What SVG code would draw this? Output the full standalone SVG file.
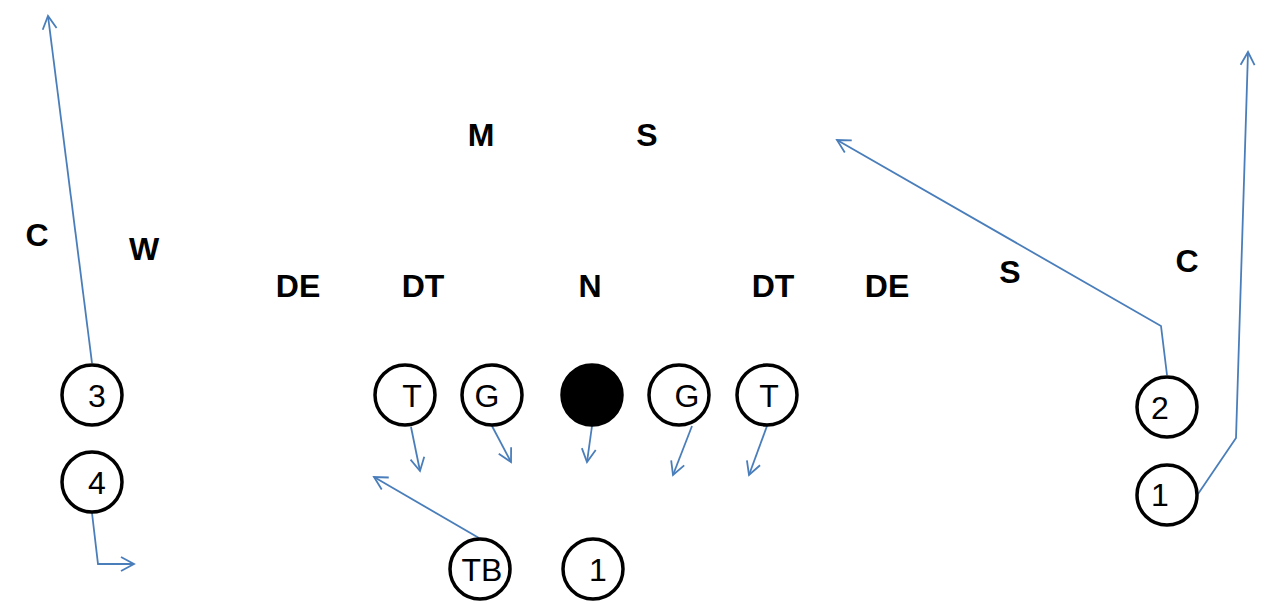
<svg xmlns="http://www.w3.org/2000/svg" width="1274" height="604" viewBox="0 0 1274 604">
<style>
.p circle{fill:#fff;stroke:#000;stroke-width:3.5}
.p text{font-family:"Liberation Sans",Arial,sans-serif;font-size:32px;fill:#000;text-anchor:middle}
.lbl text{font-family:"Liberation Sans",Arial,sans-serif;font-size:32px;font-weight:bold;fill:#000;text-anchor:middle}
.c path{fill:none;stroke:#4A7EBB;stroke-width:1.8;stroke-linejoin:miter;marker-end:url(#ah)}
</style>
<defs>
<marker id="ah" viewBox="0 0 16 16" refX="14" refY="8" markerWidth="16" markerHeight="16" markerUnits="userSpaceOnUse" orient="auto">
<path d="M1,1 L14,8 L1,15" fill="none" stroke="#4A7EBB" stroke-width="1.8"/>
</marker>
</defs>
<rect width="1274" height="604" fill="#fff"/>
<g id="defense" class="lbl">
<g id="d-M"><text x="481" y="146">M</text></g>
<g id="d-S1"><text x="647" y="146">S</text></g>
<g id="d-C1"><text x="37" y="246">C</text></g>
<g id="d-W"><text x="144" y="260">W</text></g>
<g id="d-DE1"><text x="298" y="297">DE</text></g>
<g id="d-DT1"><text x="423" y="297">DT</text></g>
<g id="d-N"><text x="590" y="297">N</text></g>
<g id="d-DT2"><text x="773" y="297">DT</text></g>
<g id="d-DE2"><text x="887" y="297">DE</text></g>
<g id="d-S2"><text x="1010" y="283">S</text></g>
<g id="d-C2"><text x="1187" y="272">C</text></g>
</g>
<g id="connectors" class="c">
<path d="M92,363 L48,16"/>
<path d="M92,513 L98,564 L134,564"/>
<path d="M411,427 L420,471"/>
<path d="M492,426 L511,462"/>
<path d="M592,426 L587,462"/>
<path d="M692,426 L673,475"/>
<path d="M767,426 L749,475"/>
<path d="M479,538 L374,477"/>
<path d="M1167,375 L1161,326 L837,140"/>
<path d="M1198,494 L1236,438 L1248,52"/>
</g>
<g id="p3" class="p"><circle cx="92" cy="395" r="30"/><text x="97" y="407">3</text></g>
<g id="p4" class="p"><circle cx="92" cy="482" r="30"/><text x="97" y="494">4</text></g>
<g id="pTL" class="p"><circle cx="405" cy="395" r="30"/><text x="412" y="407">T</text></g>
<g id="pGL" class="p"><circle cx="492" cy="395" r="30"/><text x="487" y="407">G</text></g>
<g id="pC" class="p"><circle cx="592" cy="395" r="30" style="fill:#000"/></g>
<g id="pGR" class="p"><circle cx="679" cy="395" r="30"/><text x="687" y="407">G</text></g>
<g id="pTR" class="p"><circle cx="767" cy="395" r="30"/><text x="769" y="407">T</text></g>
<g id="pTB" class="p"><circle cx="480" cy="569" r="30"/><text x="482" y="581">TB</text></g>
<g id="p1" class="p"><circle cx="593" cy="569" r="30"/><text x="598" y="581">1</text></g>
<g id="p2" class="p"><circle cx="1167" cy="407" r="30"/><text x="1160" y="419">2</text></g>
<g id="p1r" class="p"><circle cx="1167" cy="495" r="30"/><text x="1160" y="506">1</text></g>
</svg>
